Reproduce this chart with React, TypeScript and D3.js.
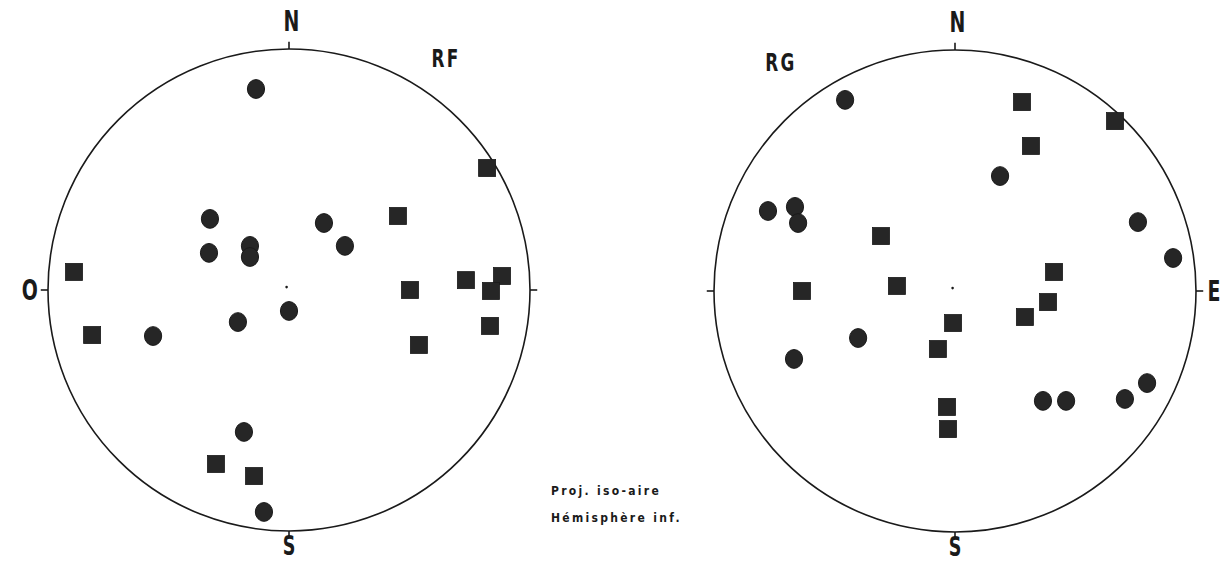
import React, { useEffect, useRef } from 'react';
import * as d3 from 'd3';

// projected positions on the net, in units of the net radius (east, north)
const rfCircles: [number, number][] = [
  [-0.137, 0.834], [-0.328, 0.295], [-0.332, 0.154], [-0.162, 0.183],
  [-0.162, 0.137], [0.145, 0.278], [0.232, 0.183], [-0.212, -0.133],
  [0.0, -0.087], [-0.564, -0.191], [-0.187, -0.589], [-0.104, -0.921],
];
const rfSquares: [number, number][] = [
  [0.822, 0.506], [0.452, 0.307], [-0.892, 0.075], [0.734, 0.041],
  [0.884, 0.058], [0.502, 0.0], [0.838, -0.004], [-0.817, -0.187],
  [0.834, -0.149], [0.539, -0.228], [-0.303, -0.722], [-0.145, -0.772],
];
const rgCircles: [number, number][] = [
  [-0.456, 0.793], [-0.776, 0.332], [-0.664, 0.349], [-0.651, 0.282],
  [0.187, 0.477], [0.759, 0.286], [0.905, 0.137], [-0.402, -0.195],
  [-0.668, -0.282], [0.365, -0.456], [0.461, -0.456], [0.705, -0.448],
  [0.797, -0.382],
];
const rgSquares: [number, number][] = [
  [0.278, 0.784], [0.664, 0.705], [0.315, 0.602], [-0.307, 0.228],
  [0.411, 0.079], [-0.241, 0.021], [-0.635, 0.0], [0.386, -0.046],
  [0.29, -0.108], [-0.008, -0.133], [-0.071, -0.241], [-0.033, -0.481],
  [-0.029, -0.573],
];

const nets = [
  { name: 'RF', west: 'O', east: '', circles: rfCircles, squares: rfSquares, cx: 289, cy: 290, nameX: 446, nameY: 58 },
  { name: 'RG', west: '', east: 'E', circles: rgCircles, squares: rgSquares, cx: 955, cy: 291, nameX: 781, nameY: 62 },
];

const notes = ['Proj. iso-aire', 'Hémisphère inf.'];

const W = 1229;
const H = 562;
const R = 241;
const INK = '#1a1a1a';
const FILL = '#262626';
const FONT = '"DejaVu Sans Condensed", "Liberation Sans", sans-serif';

const App = () => {
  const ref = useRef<SVGSVGElement>(null);

  useEffect(() => {
    const svg = d3.select(ref.current);
    svg.selectAll('*').remove();

    // condensed bold label, stretched vertically like the drafting lettering
    const label = (parent: any, t: string, lx: number, ly: number, size = 24, spacing = 0) => {
      if (!t) return;
      parent.append('text')
        .attr('transform', `translate(${lx},${ly}) scale(0.78,1.05)`)
        .attr('text-anchor', 'middle').attr('dominant-baseline', 'central')
        .attr('letter-spacing', spacing + 'px')
        .style('font-family', FONT).style('font-weight', 'bold')
        .style('font-size', size + 'px').attr('fill', INK)
        .text(t);
    };

    nets.forEach(net => {
      const x = d3.scaleLinear().domain([-1, 1]).range([net.cx - R, net.cx + R]);
      const y = d3.scaleLinear().domain([-1, 1]).range([net.cy + R, net.cy - R]);
      const g = svg.append('g');

      // primitive circle
      g.append('circle')
        .attr('cx', x(0)).attr('cy', y(0)).attr('r', R)
        .attr('fill', 'none').attr('stroke', INK).attr('stroke-width', 1.6);

      // cardinal ticks
      const ticks = [[0, 1], [0, -1], [-1, 0], [1, 0]];
      ticks.forEach(([tx, ty]) => {
        g.append('line')
          .attr('x1', x(tx)).attr('y1', y(ty))
          .attr('x2', x(tx * 1.03)).attr('y2', y(ty * 1.03))
          .attr('stroke', INK).attr('stroke-width', 1.6);
      });

      // centre mark
      g.append('circle')
        .attr('cx', x(-0.01)).attr('cy', y(0.012)).attr('r', 1.3).attr('fill', INK);

      label(g, 'N', x(0.01), y(1.115), 27);
      label(g, 'S', x(0), y(-1.062), 25);
      label(g, net.west, x(-1.075), y(0), 27);
      label(g, net.east, x(1.075), y(0), 27);
      label(g, net.name, net.nameX, net.nameY, 24, 3);

      g.selectAll('.dot')
        .data(net.circles)
        .enter()
        .append('ellipse')
        .attr('cx', d => x(d[0])).attr('cy', d => y(d[1]))
        .attr('rx', 8.6).attr('ry', 9.4)
        .attr('fill', FILL).attr('stroke', INK).attr('stroke-width', 1);

      g.selectAll('.sq')
        .data(net.squares)
        .enter()
        .append('rect')
        .attr('x', d => x(d[0]) - 8.5).attr('y', d => y(d[1]) - 8.5)
        .attr('width', 17).attr('height', 17)
        .attr('fill', FILL).attr('stroke', INK).attr('stroke-width', 0.8);
    });

    svg.selectAll('.note')
      .data(notes)
      .enter()
      .append('text')
      .attr('x', 551)
      .attr('y', (d, i) => 495 + i * 27)
      .style('font-family', FONT).style('font-weight', 'bold')
      .style('font-size', '12px').attr('letter-spacing', '2.3px')
      .attr('fill', INK)
      .text(d => d);
  }, []);

  return (
    <svg ref={ref} width={W} height={H}
      style={{ position: 'absolute', left: 0, top: 0, background: '#fff' }} />
  );
};

export default App;
